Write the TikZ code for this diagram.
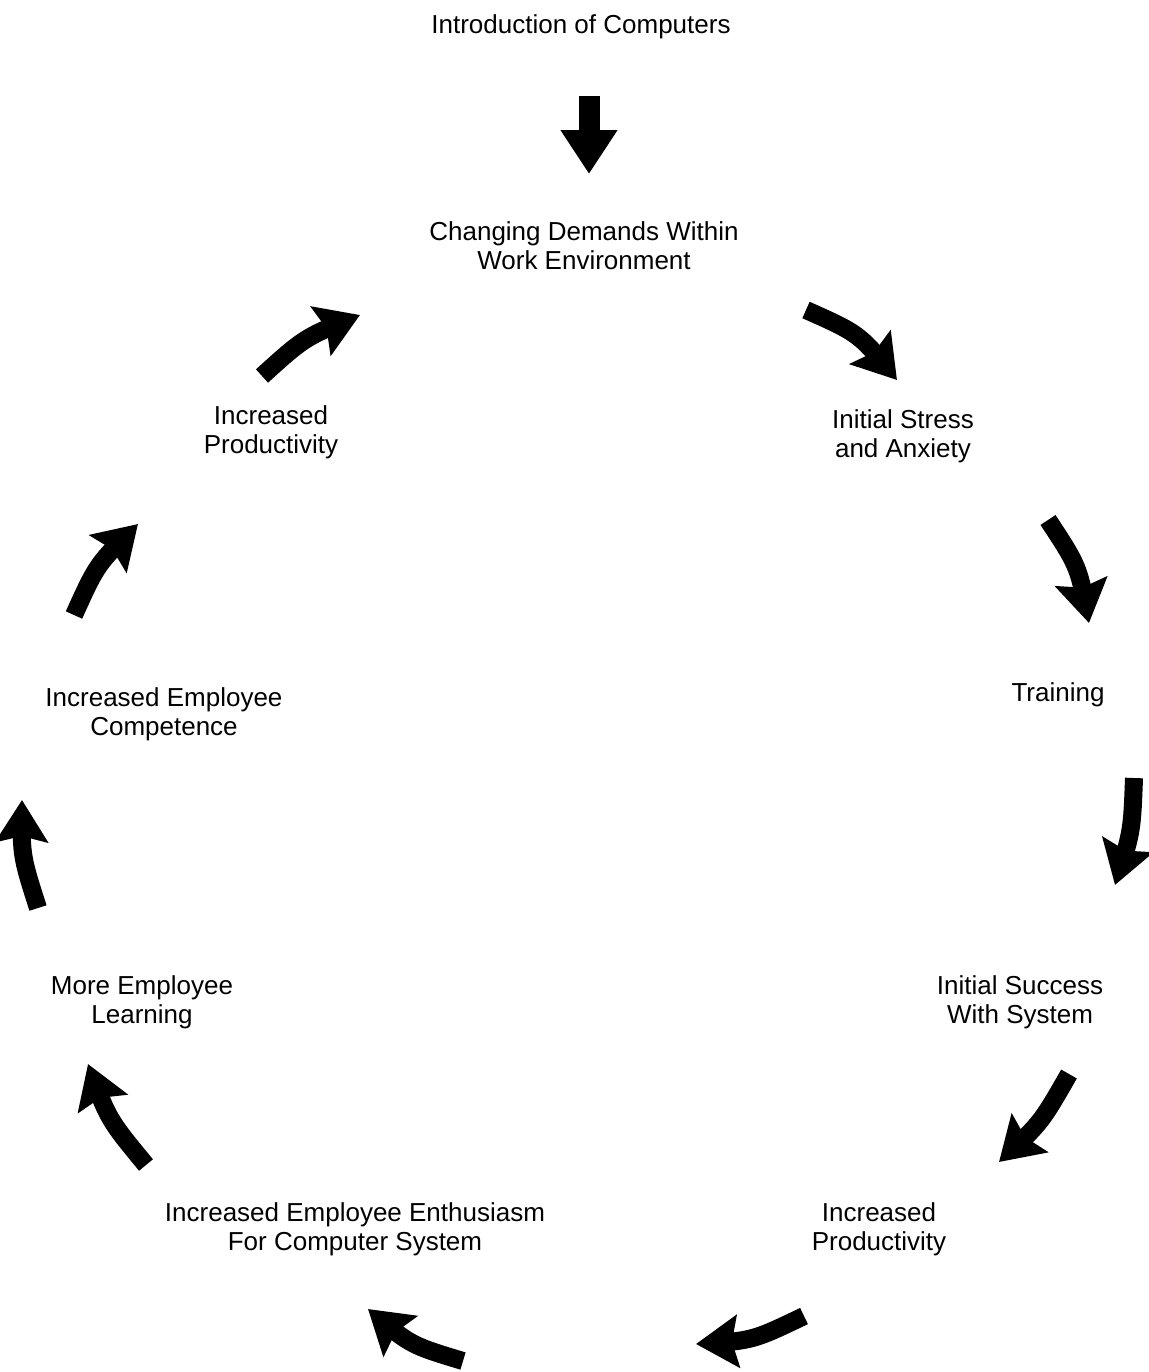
\documentclass[tikz,border=0pt]{standalone}
\usepackage{fontspec}
\setmainfont{Liberation Sans}
\usetikzlibrary{arrows.meta,bending}

\begin{document}
\begin{tikzpicture}[x=0.5pt, y=-0.5pt,
    every node/.style={font=\fontsize{13}{14.5}\selectfont, align=center, inner sep=0pt},
    droparrow/.style={line width=10.5pt, -{Triangle[length=22pt, width=27pt]}},
    cyclearrow/.style={line width=9pt, -{Stealth[length=21pt, width=26pt, inset=3pt]}}]
                \useasboundingbox (0,0) rectangle (1149,1372);

                % stages
                \node (intro) at (581,27) {Introduction of Computers};
                \node (demands) at (584,246) {Changing Demands Within\\Work Environment};
                \node (stress) at (903,436) {Initial Stress\\and Anxiety};
                \node (training) at (1058,695) {Training};
                \node (success) at (1020,1002) {Initial Success\\With System};
                \node (prodA) at (879,1229) {Increased\\Productivity};
                \node (enthus) at (355,1229) {Increased Employee Enthusiasm\\For Computer System};
                \node (learning) at (142,1002) {More Employee\\Learning};
                \node (compet) at (164,714) {Increased Employee\\Competence};
                \node (prodB) at (271,432) {Increased\\Productivity};

                % arrow ends
                \coordinate (d0) at (589,96);   \coordinate (d1) at (589,174);
                \coordinate (a1) at (806,310);  \coordinate (b1) at (897,380);
                \coordinate (a2) at (1048,520); \coordinate (b2) at (1089,623);
                \coordinate (a3) at (1134,778); \coordinate (b3) at (1115,885);
                \coordinate (a4) at (1069,1074);\coordinate (b4) at (999,1162);
                \coordinate (a5) at (804,1316); \coordinate (b5) at (696,1344);
                \coordinate (a6) at (463,1361); \coordinate (b6) at (368,1309);
                \coordinate (a7) at (146,1165); \coordinate (b7) at (88,1064);
                \coordinate (a8) at (38,908);   \coordinate (b8) at (22,800);
                \coordinate (a9) at (74,615);   \coordinate (b9) at (138,524);
                \coordinate (a10) at (262,376); \coordinate (b10) at (360,315);

                \draw[droparrow] (d0) -- (d1);
                \draw[cyclearrow] (a1) .. controls (860,334) .. (b1);
                \draw[cyclearrow] (a2) .. controls (1079,567) .. (b2);
                \draw[cyclearrow] (a3) .. controls (1132,832) .. (b3);
                \draw[cyclearrow] (a4) .. controls (1041,1123) .. (b4);
                \draw[cyclearrow] (a5) .. controls (752,1341) .. (b5);
                \draw[cyclearrow] (a6) .. controls (410,1345) .. (b6);
                \draw[cyclearrow] (a7) .. controls (108,1119) .. (b7);
                \draw[cyclearrow] (a8) .. controls (21,855) .. (b8);
                \draw[cyclearrow] (a9) .. controls (97,564) .. (b9);
                \draw[cyclearrow] (a10) .. controls (305,337) .. (b10);
            \end{tikzpicture}
\end{document}
